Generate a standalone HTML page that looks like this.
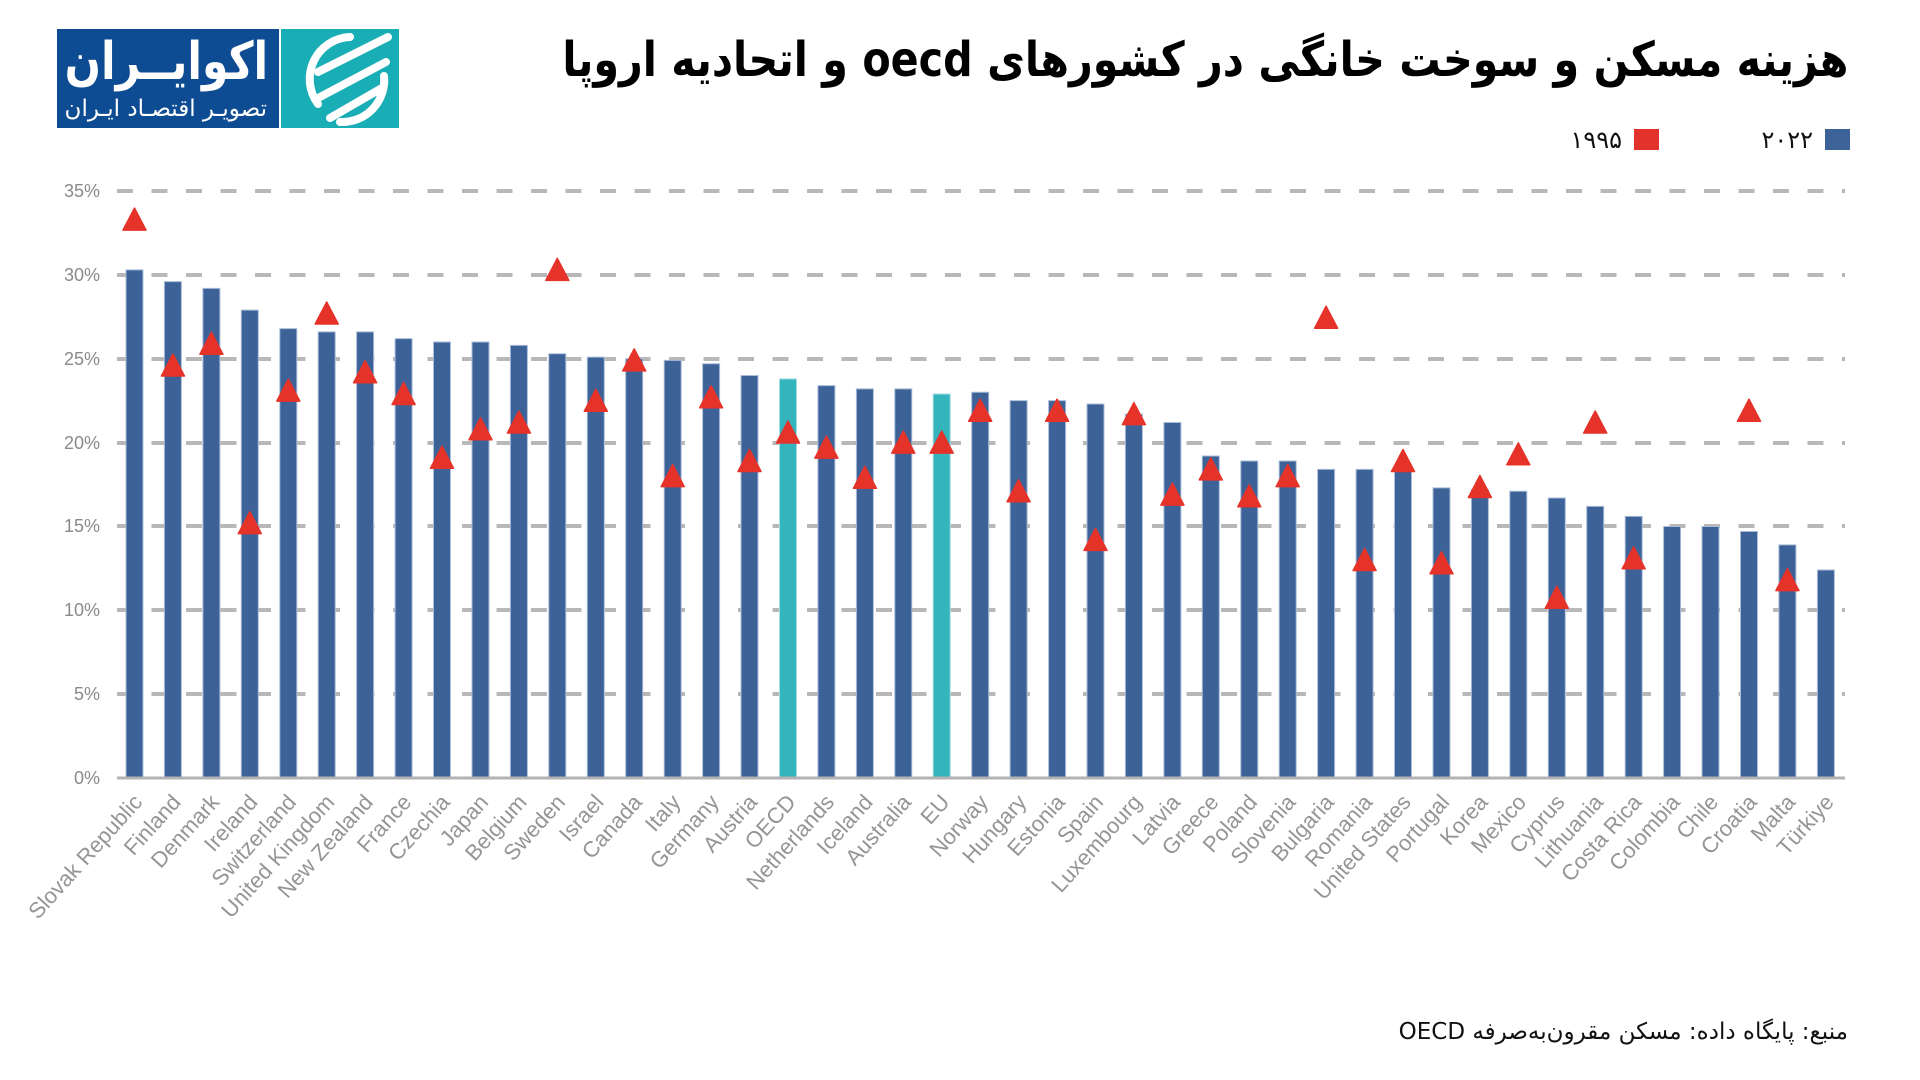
<!DOCTYPE html>
<html lang="fa">
<head>
<meta charset="utf-8">
<style>
  html,body{margin:0;padding:0;background:#fff;}
  body{width:1920px;height:1080px;position:relative;overflow:hidden;}
  svg{position:absolute;left:0;top:0;}
  .fa{position:absolute;white-space:nowrap;direction:rtl;line-height:1;font-family:"DejaVu Sans","Noto Sans CJK SC",sans-serif;}
  .title{right:72px;top:36px;font-size:48px;font-weight:bold;color:#000;transform:scaleX(0.86);transform-origin:right top;}
  .leg{font-size:24px;color:#111;top:128px;}
  .src{right:72px;top:1021px;font-size:23px;color:#111;}
  .logo1{right:1652px;top:36px;font-size:52px;font-weight:bold;color:#fff;transform:scaleX(0.82);transform-origin:right top;}
  .logo2{right:1653px;top:98px;font-size:23px;color:#fff;}
</style>
</head>
<body>
<svg width="1920" height="1080" viewBox="0 0 1920 1080" xmlns="http://www.w3.org/2000/svg">
  <defs>
    <path id="tri" d="M-11.5,10.5 L0,-11.5 L11.5,10.5 Z" fill="#e5332a" stroke="#e5332a" stroke-width="1.5" stroke-linejoin="round"/>
  </defs>

  <!-- Logo -->
  <rect x="57" y="29" width="222" height="99" fill="#0d4b92"/>
  <rect x="281" y="29" width="118" height="99" fill="#19adb5"/>
  <g fill="none" stroke="#fff" stroke-width="8" stroke-linecap="round">
    <path d="M350,37 A42,42 0 0 0 318,104"/>
    <path d="M384,76 A42,42 0 0 1 340,122"/>
    <line x1="318" y1="72" x2="388" y2="37"/>
    <line x1="320" y1="97" x2="386" y2="62"/>
    <line x1="330" y1="118" x2="382" y2="88"/>
  </g>

  <!-- Legend squares -->
  <rect x="1825" y="129" width="25" height="21" fill="#3d6399"/>
  <rect x="1634" y="129" width="25" height="21" fill="#e3312b"/>

  <!-- Gridlines -->
  <g stroke="#b8b8b8" stroke-width="4" stroke-dasharray="16 18.5">
    <line x1="117" y1="191" x2="1845" y2="191"/>
    <line x1="117" y1="275" x2="1845" y2="275"/>
    <line x1="117" y1="359" x2="1845" y2="359"/>
    <line x1="117" y1="443" x2="1845" y2="443"/>
    <line x1="117" y1="526" x2="1845" y2="526"/>
    <line x1="117" y1="610" x2="1845" y2="610"/>
    <line x1="117" y1="694" x2="1845" y2="694"/>
  </g>

  <!-- Y labels -->
  <g font-family="Liberation Sans, sans-serif" font-size="18" fill="#8a8a8a" text-anchor="end">
    <text x="100" y="197">35%</text>
    <text x="100" y="281">30%</text>
    <text x="100" y="365">25%</text>
    <text x="100" y="449">20%</text>
    <text x="100" y="532">15%</text>
    <text x="100" y="616">10%</text>
    <text x="100" y="700">5%</text>
    <text x="100" y="784">0%</text>
  </g>

  <!-- Bars -->
  <g transform="translate(0,778) scale(1,-16.77)" fill="#3d6298" stroke="#a9bcd8" stroke-width="1">
    <rect x="126.0" y="0" width="17" height="30.3" vector-effect="non-scaling-stroke"/>
    <rect x="164.4" y="0" width="17" height="29.6" vector-effect="non-scaling-stroke"/>
    <rect x="202.9" y="0" width="17" height="29.2" vector-effect="non-scaling-stroke"/>
    <rect x="241.3" y="0" width="17" height="27.9" vector-effect="non-scaling-stroke"/>
    <rect x="279.8" y="0" width="17" height="26.8" vector-effect="non-scaling-stroke"/>
    <rect x="318.2" y="0" width="17" height="26.6" vector-effect="non-scaling-stroke"/>
    <rect x="356.6" y="0" width="17" height="26.6" vector-effect="non-scaling-stroke"/>
    <rect x="395.1" y="0" width="17" height="26.2" vector-effect="non-scaling-stroke"/>
    <rect x="433.5" y="0" width="17" height="26.0" vector-effect="non-scaling-stroke"/>
    <rect x="472.0" y="0" width="17" height="26.0" vector-effect="non-scaling-stroke"/>
    <rect x="510.4" y="0" width="17" height="25.8" vector-effect="non-scaling-stroke"/>
    <rect x="548.8" y="0" width="17" height="25.3" vector-effect="non-scaling-stroke"/>
    <rect x="587.3" y="0" width="17" height="25.1" vector-effect="non-scaling-stroke"/>
    <rect x="625.7" y="0" width="17" height="25.0" vector-effect="non-scaling-stroke"/>
    <rect x="664.2" y="0" width="17" height="24.9" vector-effect="non-scaling-stroke"/>
    <rect x="702.6" y="0" width="17" height="24.7" vector-effect="non-scaling-stroke"/>
    <rect x="741.0" y="0" width="17" height="24.0" vector-effect="non-scaling-stroke"/>
    <rect x="779.5" y="0" width="17" height="23.8" fill="#34b4bd" stroke="#a6dde2" vector-effect="non-scaling-stroke"/>
    <rect x="817.9" y="0" width="17" height="23.4" vector-effect="non-scaling-stroke"/>
    <rect x="856.4" y="0" width="17" height="23.2" vector-effect="non-scaling-stroke"/>
    <rect x="894.8" y="0" width="17" height="23.2" vector-effect="non-scaling-stroke"/>
    <rect x="933.2" y="0" width="17" height="22.9" fill="#34b4bd" stroke="#a6dde2" vector-effect="non-scaling-stroke"/>
    <rect x="971.7" y="0" width="17" height="23.0" vector-effect="non-scaling-stroke"/>
    <rect x="1010.1" y="0" width="17" height="22.5" vector-effect="non-scaling-stroke"/>
    <rect x="1048.6" y="0" width="17" height="22.5" vector-effect="non-scaling-stroke"/>
    <rect x="1087.0" y="0" width="17" height="22.3" vector-effect="non-scaling-stroke"/>
    <rect x="1125.4" y="0" width="17" height="21.7" vector-effect="non-scaling-stroke"/>
    <rect x="1163.9" y="0" width="17" height="21.2" vector-effect="non-scaling-stroke"/>
    <rect x="1202.3" y="0" width="17" height="19.2" vector-effect="non-scaling-stroke"/>
    <rect x="1240.8" y="0" width="17" height="18.9" vector-effect="non-scaling-stroke"/>
    <rect x="1279.2" y="0" width="17" height="18.9" vector-effect="non-scaling-stroke"/>
    <rect x="1317.6" y="0" width="17" height="18.4" vector-effect="non-scaling-stroke"/>
    <rect x="1356.1" y="0" width="17" height="18.4" vector-effect="non-scaling-stroke"/>
    <rect x="1394.5" y="0" width="17" height="18.5" vector-effect="non-scaling-stroke"/>
    <rect x="1433.0" y="0" width="17" height="17.3" vector-effect="non-scaling-stroke"/>
    <rect x="1471.4" y="0" width="17" height="17.2" vector-effect="non-scaling-stroke"/>
    <rect x="1509.8" y="0" width="17" height="17.1" vector-effect="non-scaling-stroke"/>
    <rect x="1548.3" y="0" width="17" height="16.7" vector-effect="non-scaling-stroke"/>
    <rect x="1586.7" y="0" width="17" height="16.2" vector-effect="non-scaling-stroke"/>
    <rect x="1625.2" y="0" width="17" height="15.6" vector-effect="non-scaling-stroke"/>
    <rect x="1663.6" y="0" width="17" height="15.0" vector-effect="non-scaling-stroke"/>
    <rect x="1702.0" y="0" width="17" height="15.0" vector-effect="non-scaling-stroke"/>
    <rect x="1740.5" y="0" width="17" height="14.7" vector-effect="non-scaling-stroke"/>
    <rect x="1778.9" y="0" width="17" height="13.9" vector-effect="non-scaling-stroke"/>
    <rect x="1817.4" y="0" width="17" height="12.4" vector-effect="non-scaling-stroke"/>
  </g>

  <!-- Axis -->
  <line x1="117" y1="778" x2="1845" y2="778" stroke="#b3b3b3" stroke-width="3"/>

  <!-- Triangles (1995) -->
  <use href="#tri" x="134.5" y="219.6"/>
  <use href="#tri" x="172.9" y="365.5"/>
  <use href="#tri" x="211.4" y="343.7"/>
  <use href="#tri" x="249.8" y="523.1"/>
  <use href="#tri" x="288.3" y="390.6"/>
  <use href="#tri" x="326.7" y="313.5"/>
  <use href="#tri" x="365.1" y="372.2"/>
  <use href="#tri" x="403.6" y="394.0"/>
  <use href="#tri" x="442.0" y="457.7"/>
  <use href="#tri" x="480.5" y="429.2"/>
  <use href="#tri" x="518.9" y="422.5"/>
  <use href="#tri" x="557.3" y="269.9"/>
  <use href="#tri" x="595.8" y="400.7"/>
  <use href="#tri" x="634.2" y="360.4"/>
  <use href="#tri" x="672.7" y="476.1"/>
  <use href="#tri" x="711.1" y="397.3"/>
  <use href="#tri" x="749.5" y="461.0"/>
  <use href="#tri" x="788.0" y="432.5"/>
  <use href="#tri" x="826.4" y="447.6"/>
  <use href="#tri" x="864.9" y="477.8"/>
  <use href="#tri" x="903.3" y="442.6"/>
  <use href="#tri" x="941.7" y="442.6"/>
  <use href="#tri" x="980.2" y="410.7"/>
  <use href="#tri" x="1018.6" y="491.2"/>
  <use href="#tri" x="1057.1" y="410.7"/>
  <use href="#tri" x="1095.5" y="539.9"/>
  <use href="#tri" x="1133.9" y="414.1"/>
  <use href="#tri" x="1172.4" y="494.6"/>
  <use href="#tri" x="1210.8" y="469.4"/>
  <use href="#tri" x="1249.3" y="496.3"/>
  <use href="#tri" x="1287.7" y="476.1"/>
  <use href="#tri" x="1326.1" y="317.7"/>
  <use href="#tri" x="1364.6" y="560.0"/>
  <use href="#tri" x="1403.0" y="461.0"/>
  <use href="#tri" x="1441.5" y="563.3"/>
  <use href="#tri" x="1479.9" y="487.0"/>
  <use href="#tri" x="1518.3" y="454.3"/>
  <use href="#tri" x="1556.8" y="597.7"/>
  <use href="#tri" x="1595.2" y="422.5"/>
  <use href="#tri" x="1633.7" y="558.3"/>
  <use href="#tri" x="1749.0" y="410.7"/>
  <use href="#tri" x="1787.4" y="580.1"/>

  <!-- X labels -->
  <g font-family="Liberation Sans, sans-serif" font-size="22" fill="#959595" text-anchor="end">
    <text transform="translate(143.5,803) rotate(-48)">Slovak Republic</text>
    <text transform="translate(181.9,803) rotate(-48)">Finland</text>
    <text transform="translate(220.4,803) rotate(-48)">Denmark</text>
    <text transform="translate(258.8,803) rotate(-48)">Ireland</text>
    <text transform="translate(297.3,803) rotate(-48)">Switzerland</text>
    <text transform="translate(335.7,803) rotate(-48)">United Kingdom</text>
    <text transform="translate(374.1,803) rotate(-48)">New Zealand</text>
    <text transform="translate(412.6,803) rotate(-48)">France</text>
    <text transform="translate(451.0,803) rotate(-48)">Czechia</text>
    <text transform="translate(489.5,803) rotate(-48)">Japan</text>
    <text transform="translate(527.9,803) rotate(-48)">Belgium</text>
    <text transform="translate(566.3,803) rotate(-48)">Sweden</text>
    <text transform="translate(604.8,803) rotate(-48)">Israel</text>
    <text transform="translate(643.2,803) rotate(-48)">Canada</text>
    <text transform="translate(681.7,803) rotate(-48)">Italy</text>
    <text transform="translate(720.1,803) rotate(-48)">Germany</text>
    <text transform="translate(758.5,803) rotate(-48)">Austria</text>
    <text transform="translate(797.0,803) rotate(-48)">OECD</text>
    <text transform="translate(835.4,803) rotate(-48)">Netherlands</text>
    <text transform="translate(873.9,803) rotate(-48)">Iceland</text>
    <text transform="translate(912.3,803) rotate(-48)">Australia</text>
    <text transform="translate(950.7,803) rotate(-48)">EU</text>
    <text transform="translate(989.2,803) rotate(-48)">Norway</text>
    <text transform="translate(1027.6,803) rotate(-48)">Hungary</text>
    <text transform="translate(1066.1,803) rotate(-48)">Estonia</text>
    <text transform="translate(1104.5,803) rotate(-48)">Spain</text>
    <text transform="translate(1142.9,803) rotate(-48)">Luxembourg</text>
    <text transform="translate(1181.4,803) rotate(-48)">Latvia</text>
    <text transform="translate(1219.8,803) rotate(-48)">Greece</text>
    <text transform="translate(1258.3,803) rotate(-48)">Poland</text>
    <text transform="translate(1296.7,803) rotate(-48)">Slovenia</text>
    <text transform="translate(1335.1,803) rotate(-48)">Bulgaria</text>
    <text transform="translate(1373.6,803) rotate(-48)">Romania</text>
    <text transform="translate(1412.0,803) rotate(-48)">United States</text>
    <text transform="translate(1450.5,803) rotate(-48)">Portugal</text>
    <text transform="translate(1488.9,803) rotate(-48)">Korea</text>
    <text transform="translate(1527.3,803) rotate(-48)">Mexico</text>
    <text transform="translate(1565.8,803) rotate(-48)">Cyprus</text>
    <text transform="translate(1604.2,803) rotate(-48)">Lithuania</text>
    <text transform="translate(1642.7,803) rotate(-48)">Costa Rica</text>
    <text transform="translate(1681.1,803) rotate(-48)">Colombia</text>
    <text transform="translate(1719.5,803) rotate(-48)">Chile</text>
    <text transform="translate(1758.0,803) rotate(-48)">Croatia</text>
    <text transform="translate(1796.4,803) rotate(-48)">Malta</text>
    <text transform="translate(1834.9,803) rotate(-48)">Türkiye</text>
  </g>
</svg>

<div class="fa logo1">اکوایــران</div>
<div class="fa logo2">تصویـر اقتصـاد ایـران</div>
<div class="fa title">هزینه مسکن و سوخت خانگی در کشورهای oecd و اتحادیه اروپا</div>
<div class="fa leg" style="right:107px;">۲۰۲۲</div>
<div class="fa leg" style="right:298px;">۱۹۹۵</div>
<div class="fa src">منبع: پایگاه داده: مسکن مقرون‌به‌صرفه OECD</div>
</body>
</html>
